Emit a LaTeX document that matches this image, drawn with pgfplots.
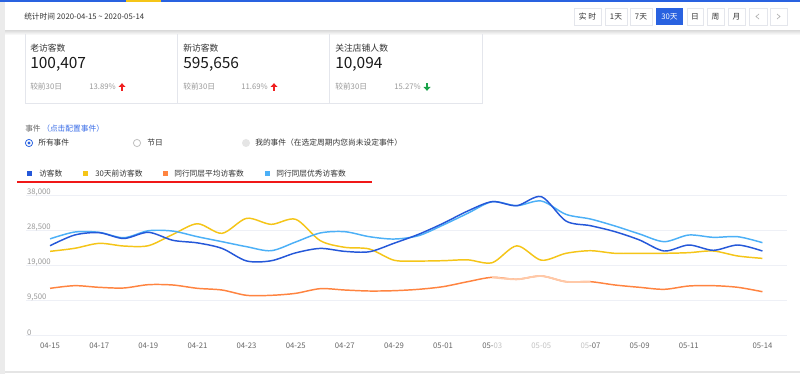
\documentclass[border=0pt]{standalone}
\usepackage{pgfplots}
\pgfplotsset{compat=1.18}
\usepackage{fontspec}
\setmainfont{Noto Sans CJK SC}
\definecolor{cdark}{HTML}{2558D9}
\definecolor{clight}{HTML}{4CB0F7}
\definecolor{cyellow}{HTML}{F5C518}
\definecolor{corange}{HTML}{FF8440}
\definecolor{cfade}{HTML}{FFC9A8}
\definecolor{ctxt}{HTML}{333333}
\definecolor{cgray}{HTML}{999999}
\definecolor{ctick}{HTML}{666666}
\definecolor{cborder}{HTML}{E4E6EC}
\definecolor{cgrid}{HTML}{EEF0F6}
\definecolor{cbtn}{HTML}{2962E0}
\definecolor{clink}{HTML}{3B6EE8}
\definecolor{cred}{HTML}{F02020}
\definecolor{cline}{HTML}{F01818}
\definecolor{cgreen}{HTML}{1AA34A}

\pgfplotstableread{
i dark light yellow orange
0 24240 26100 22710 12670
1 27140 27950 23530 13390
2 27770 27870 24880 12940
3 26200 26400 24150 12760
4 27870 28300 24240 13660
5 25700 28200 27300 13570
6 25000 26680 30200 12670
7 23500 25330 27600 12210
8 20100 23970 31670 10770
9 20150 22880 30040 10770
10 22300 25250 31400 11310
11 23500 27700 25600 12580
12 22700 28040 23800 12210
13 22600 26680 23340 11940
14 24900 26050 20300 12030
15 27330 26950 20080 12400
16 30310 29850 20170 13120
17 33650 33020 20400 14470
18 36200 36180 19630 15660
19 35100 35100 24200 15120
20 37540 36370 20300 16010
21 30940 32750 22170 14470
22 29670 31480 22880 14470
23 28040 29580 22170 13570
24 25780 27410 22170 12940
25 22800 25330 22170 12400
26 24430 27140 22350 13300
27 22990 26510 22800 13390
28 24430 26680 21440 12940
29 22800 25060 20800 11750
}\datatable
\pgfplotstableread{
i orange
18 15660
19 15120
20 16010
21 14470
22 14470
}\fadetable

\tikzset{
  lab/.style={anchor=west, inner sep=0, text=ctxt, font=\fontsize{6.6}{8}\selectfont},
  big/.style={anchor=west, inner sep=0, text=black!90, font=\fontsize{11.6}{13}\selectfont},
  sm/.style={anchor=west, inner sep=0, text=ctxt, font=\fontsize{5.8}{7}\selectfont},
  smg/.style={anchor=west, inner sep=0, text=cgray, font=\fontsize{5.8}{7}\selectfont},
  pct/.style={anchor=east, inner sep=0, text=cgray, font=\fontsize{5.8}{7}\selectfont},
}

\begin{document}
\begin{tikzpicture}
\path[use as bounding box, fill=white] (0,0) rectangle (600pt,-280.5pt);
\begin{scope}[x=0.75pt,y=-0.75pt]
 % frame
 \fill[black!8] (0,0) rectangle (5,374);
 \fill[black!10] (5,371) rectangle (800,372.5);
 \fill[cbtn] (0,0) rectangle (800,1.8);
 \fill[cyellow] (126,0) rectangle (161,1.8);
 \shade[top color=black!12, bottom color=white] (5,31) rectangle (800,35);
 % header
 \node[sm] at (24,17) {统计时间 2020-04-15 \textasciitilde\ 2020-05-14};
 % buttons
 \foreach \a/\b/\t in {574/601/实 时, 605/627/1天, 630/652/7天, 687/703/日, 707/724/周, 728/745/月}{
   \draw[cborder, fill=white, line width=0.5pt] (\a,8) rectangle (\b,25);
   \node[text=ctxt, inner sep=0, font=\fontsize{5.8}{7}\selectfont] at ({(\a+\b)/2},16.5) {\t};
 }
 \fill[cbtn] (656,8) rectangle (683,25);
 \node[text=white, inner sep=0, font=\fontsize{5.8}{7}\selectfont] at (669.5,16.5) {30天};
 \draw[cborder, fill=white, line width=0.5pt] (749,8) rectangle (767,25);
 \draw[cborder, fill=white, line width=0.5pt] (770,8) rectangle (787,25);
 \draw[black!30, line width=0.5pt] (759,14) -- (756,16.5) -- (759,19);
 \draw[black!30, line width=0.5pt] (777,14) -- (780,16.5) -- (777,19);
 % cards
 \draw[cborder, line width=0.6pt] (25,34) -- (25,103) -- (482,103) -- (482,34);
 \draw[cborder, line width=0.6pt] (177,34) -- (177,103);
 \draw[cborder, line width=0.6pt] (329,34) -- (329,103);
 \node[lab] at (30,48) {老访客数};
 \node[big] at (30,64.5) {100,407};
 \node[smg] at (30,87) {较前30日};
 \node[pct] at (116,87) {13.89\%};
 \node[lab] at (183,48) {新访客数};
 \node[big] at (183,64.5) {595,656};
 \node[smg] at (183,87) {较前30日};
 \node[pct] at (268,87) {11.69\%};
 \node[lab] at (335,48) {关注店铺人数};
 \node[big] at (335,64.5) {10,094};
 \node[smg] at (335,87) {较前30日};
 \node[pct] at (421,87) {15.27\%};
 \fill[cred] (118.5,87) -- (122,83.2) -- (125.5,87) -- cycle;
 \fill[cred] (121.1,86.5) rectangle (122.9,90.8);
 \fill[cred] (270.5,87) -- (274,83.2) -- (277.5,87) -- cycle;
 \fill[cred] (273.1,86.5) rectangle (274.9,90.8);
 \fill[cgreen] (423.5,87) -- (427,90.8) -- (430.5,87) -- cycle;
 \fill[cgreen] (426.1,83.2) rectangle (427.9,87.5);
 % events
 \node[anchor=west, inner sep=0, text=ctick, font=\fontsize{5.8}{7}\selectfont] at (25,129) {事件};
 \node[anchor=west, inner sep=0, text=clink, font=\fontsize{5.8}{7}\selectfont] at (42,129) {（点击配置事件）};
 \draw[cbtn, line width=0.6pt, fill=white] (29,143) circle (3.6);
 \fill[cbtn] (29,143) circle (1.6);
 \node[sm] at (38,143) {所有事件};
 \draw[black!25, line width=0.6pt, fill=white] (137,143) circle (3.6);
 \node[sm] at (147,143) {节日};
 \fill[black!10] (246,143) circle (4);
 \node[sm] at (255,143) {我的事件（在选定周期内您尚未设定事件）};
 % legend
 \fill[cdark] (27,171) rectangle (32,176);
 \node[sm] at (39,173.5) {访客数};
 \fill[cyellow] (83,171) rectangle (88,176);
 \node[sm] at (95,173.5) {30天前访客数};
 \fill[corange] (163,171) rectangle (168,176);
 \node[sm] at (174,173.5) {同行同层平均访客数};
 \fill[clight] (265,171) rectangle (270,176);
 \node[sm] at (276,173.5) {同行同层优秀访客数};
 \fill[cline] (17,180.8) rectangle (372,182.6);
\end{scope}
\begin{axis}[
  at={(26*0.75pt,-335*0.75pt)}, anchor=south west,
  scale only axis, width=570.75pt, height=105pt,
  xmin=-0.98, xmax=30, ymin=0, ymax=38000,
  scaled y ticks=false, scaled x ticks=false,
  axis line style={draw=none},
  major tick length=0pt,
  ytick={0,9500,19000,28500,38000},
  yticklabels={0,{9,500},{19,000},{28,500},{38,000}},
  yticklabel style={anchor=south west, inner sep=0.6pt, yshift=-1.2pt, text=cgray, font=\fontsize{5.8}{7}\selectfont},
  ymajorgrids, grid style={color=cgrid, line width=0.7pt},
  xtick={0,2,4,6,8,10,12,14,16,18,20,22,24,26,29},
  xticklabels={04-15,04-17,04-19,04-21,04-23,04-25,04-27,04-29,05-01,05-{\color{cgray!60}03},{\color{cgray!60}05-05},{\color{cgray!60}05}-07,05-09,05-11,05-14},
  xticklabel style={text=ctick, font=\fontsize{5.8}{7}\selectfont, yshift=-2.5pt},
  every axis plot/.append style={line width=1.1pt, smooth, tension=0.5, no markers},
]
\addplot[cyellow] table[x=i, y=yellow] {\datatable};
\addplot[corange] table[x=i, y=orange] {\datatable};
\addplot[cfade, line width=1.4pt] table[x=i, y=orange] {\fadetable};
\addplot[clight] table[x=i, y=light] {\datatable};
\addplot[cdark] table[x=i, y=dark] {\datatable};
\end{axis}
\end{tikzpicture}
\end{document}
